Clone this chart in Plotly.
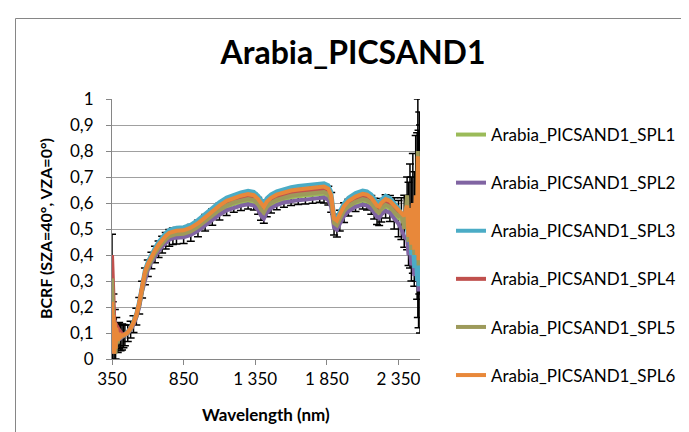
import plotly.graph_objects as go

wavelength = [350, 355, 360, 365, 370, 375, 380, 390, 400, 410, 420, 430, 440,
              460, 480, 500, 520, 540, 560, 580, 600, 625, 650, 675, 700, 725, 750, 775, 800,
              850, 900, 950, 1000, 1050, 1100, 1150, 1200, 1250, 1300,
              1340, 1370, 1390, 1410, 1430, 1460, 1500,
              1550, 1600, 1650, 1700, 1750, 1800, 1830, 1860, 1880,
              1900, 1920, 1940, 1970, 2000, 2050, 2100, 2130, 2160, 2180,
              2200, 2215, 2230, 2260, 2290, 2320, 2350, 2370, 2390,
              2410, 2420, 2430, 2440, 2450, 2460, 2470, 2480, 2485, 2490, 2495, 2500]

spl1 = [.30, .10, .15, .05, .12, .06, .10, .08, .09, .082, .085, .088, .091,
        .099, .113, .134, .163, .205, .267, .318, .349, .379, .402, .422, .44, .455, .466, .472, .474,
        .476, .485, .502, .524, .546, .567, .584, .596, .603, .609,
        .605, .589, .569, .557, .579, .594, .606,
        .616, .622, .626, .628, .631, .635, .636, .628, .602,
        .517, .509, .532, .563, .582, .599, .609, .605, .593, .578,
        .562, .558, .572, .587, .579, .56, .54, .54, .53,
        .56, .52, .55, .50, .56, .50, .58, .55, .58, .50, .60, .50]
spl1_err = [.18, .12, .10, .08, .07, .06, .06, .055, .05, .05, .05, .045, .04,
            .032, .032, .032, .032, .032, .032, .032, .032, .032, .032, .032, .032, .032, .032, .032, .032,
            .032, .032, .032, .032, .032, .032, .032, .032, .032, .032,
            .032, .032, .035, .035, .032, .032, .032,
            .032, .032, .032, .032, .032, .032, .036, .036, .038,
            .04, .04, .04, .038, .032, .032, .032, .032, .036, .04,
            .045, .045, .045, .045, .05, .06, .07, .08, .10,
            .14, .16, .20, .20, .23, .22, .28, .32, .42, .38, .35, .40]
spl2 = [.15, .02, .12, .03, .10, .05, .09, .07, .085, .08, .085, .088, .09,
        .098, .112, .132, .16, .20, .26, .31, .342, .372, .395, .415, .432, .447, .459, .465, .467,
        .468, .477, .493, .514, .535, .555, .572, .583, .59, .595,
        .59, .574, .552, .54, .563, .58, .592,
        .602, .607, .611, .613, .616, .62, .621, .612, .585,
        .505, .497, .52, .55, .568, .585, .594, .59, .578, .562,
        .546, .542, .556, .57, .562, .54, .52, .50, .47,
        .46, .40, .42, .36, .40, .32, .38, .30, .45, .26, .35, .30]
spl3 = [.23, .12, .18, .10, .15, .10, .12, .10, .10, .09, .092, .094, .096,
        .106, .121, .144, .175, .222, .288, .343, .374, .405, .428, .45, .469, .485, .497, .503, .505,
        .507, .517, .535, .558, .581, .603, .621, .633, .641, .647,
        .643, .628, .61, .598, .618, .633, .645,
        .655, .661, .665, .668, .671, .675, .676, .668, .643,
        .552, .544, .568, .60, .62, .638, .648, .645, .633, .618,
        .603, .60, .613, .628, .62, .60, .58, .56, .52,
        .50, .45, .48, .40, .45, .35, .42, .30, .50, .28, .40, .30]
spl4 = [.40, .25, .20, .16, .14, .13, .13, .12, .11, .10, .095, .095, .095,
        .102, .117, .138, .168, .212, .276, .33, .36, .39, .412, .434, .452, .467, .478, .484, .486,
        .488, .498, .515, .537, .56, .581, .599, .611, .618, .624,
        .62, .605, .586, .574, .595, .61, .622,
        .632, .638, .642, .645, .648, .652, .653, .645, .62,
        .532, .524, .547, .578, .597, .615, .625, .622, .61, .595,
        .58, .576, .59, .605, .598, .58, .565, .56, .55,
        .54, .52, .55, .50, .53, .48, .55, .46, .60, .45, .55, .50]
spl5 = [.31, .20, .12, .05, .13, .02, .11, .06, .095, .083, .088, .09, .092,
        .10, .115, .136, .165, .208, .27, .322, .353, .383, .406, .427, .445, .46, .472, .478, .48,
        .482, .491, .508, .53, .552, .573, .59, .602, .609, .615,
        .611, .595, .575, .563, .585, .60, .612,
        .622, .628, .632, .634, .637, .641, .642, .634, .608,
        .523, .515, .538, .569, .588, .605, .615, .611, .599, .584,
        .568, .564, .578, .593, .585, .565, .55, .56, .50,
        .63, .45, .55, .42, .58, .40, .60, .42, .80, .36, .60, .42]
spl6 = [.22, .03, .17, .02, .14, .04, .12, .07, .10, .085, .09, .092, .094,
        .103, .118, .14, .17, .215, .28, .335, .365, .395, .418, .44, .458, .473, .485, .491, .493,
        .495, .505, .522, .545, .568, .59, .608, .62, .628, .634,
        .63, .615, .597, .585, .605, .62, .632,
        .642, .648, .652, .655, .658, .662, .663, .655, .63,
        .54, .532, .556, .588, .607, .625, .635, .632, .62, .605,
        .59, .586, .60, .615, .608, .59, .575, .565, .55,
        .59, .47, .58, .44, .60, .42, .63, .40, .78, .38, .62, .45]

names = ["Arabia_PICSAND1_SPL1", "Arabia_PICSAND1_SPL2", "Arabia_PICSAND1_SPL3",
         "Arabia_PICSAND1_SPL4", "Arabia_PICSAND1_SPL5", "Arabia_PICSAND1_SPL6"]
colors = ["#9BBB59", "#8064A2", "#4BACC6", "#C0504D", "#9D9A5B", "#E8883A"]
series = [spl1, spl2, spl3, spl4, spl5, spl6]

for s in series + [spl1_err]:
    assert len(s) == len(wavelength), len(s)

FONT = "Lato"
fig = go.Figure()
for i, (name, col, ys) in enumerate(zip(names, colors, series)):
    kw = {}
    if i == 0:
        kw["error_y"] = dict(type="data", array=spl1_err, visible=True,
                             color="black", thickness=1.5, width=4)
    fig.add_trace(go.Scatter(x=wavelength, y=ys, mode="lines", name=name,
                             legendgroup=name,
                             line=dict(color=col, width=4), **kw))

L, R, T, B = 104, 277, 91, 81
W, H = 689, 432
pw = W - L - R
ph = H - T - B

def px_x(p):
    return (p - L) / pw

def px_y(p):
    return (H - B - p) / ph

fig.update_layout(
    template="none",
    width=W, height=H,
    margin=dict(l=L, r=R, t=T, b=B, autoexpand=False),
    paper_bgcolor="white", plot_bgcolor="white",
    separators=", ",
    font=dict(family=FONT, color="black", size=17),
    title=dict(text="<b>Arabia_PICSAND1</b>", font=dict(family=FONT, size=32, color="black"),
               x=345 / W, xref="container", xanchor="center",
               y=1 - 45 / H, yref="container", yanchor="middle"),
    showlegend=True,
    legend=dict(x=px_x(443), xanchor="left", y=px_y(109), yanchor="top",
                font=dict(family=FONT, size=17, color="black"),
                tracegroupgap=23, traceorder="grouped", maxheight=420,
                bgcolor="rgba(0,0,0,0)", borderwidth=0),
    xaxis=dict(range=[350, 2500], tick0=350, dtick=500, tickmode="linear",
               separatethousands=True, automargin=False,
               showgrid=False, zeroline=False, showline=True, linecolor="#868686",
               ticks="outside", ticklen=5, tickcolor="#868686",
               tickfont=dict(family=FONT, size=17, color="black")),
    yaxis=dict(range=[0, 1], dtick=0.1, tick0=0, tickmode="linear", automargin=False,
               showgrid=True, gridcolor="#A0A0A0", gridwidth=1, zeroline=False,
               showline=True, linecolor="#868686",
               ticks="outside", ticklen=5, tickcolor="#868686", ticklabelstandoff=9,
               tickfont=dict(family=FONT, size=17, color="black")),
    annotations=[
        dict(text="<b>Wavelength (nm)</b>", xref="paper", yref="paper",
             x=px_x(258), y=px_y(406), xanchor="center", yanchor="middle",
             showarrow=False, font=dict(family=FONT, size=17, color="black")),
        dict(text="<b>BCRF (SZA=40°, VZA=0°)</b>", xref="paper", yref="paper",
             x=px_x(37), y=px_y(221), xanchor="center", yanchor="middle", textangle=-90,
             showarrow=False, font=dict(family=FONT, size=16, color="black")),
    ],
    shapes=[dict(type="rect", xref="paper", yref="paper",
                 x0=px_x(7.5), x1=px_x(720), y0=px_y(460), y1=px_y(10.5),
                 line=dict(color="#868686", width=1), fillcolor="rgba(0,0,0,0)", layer="below")],
)

fig.write_html("out.html")
